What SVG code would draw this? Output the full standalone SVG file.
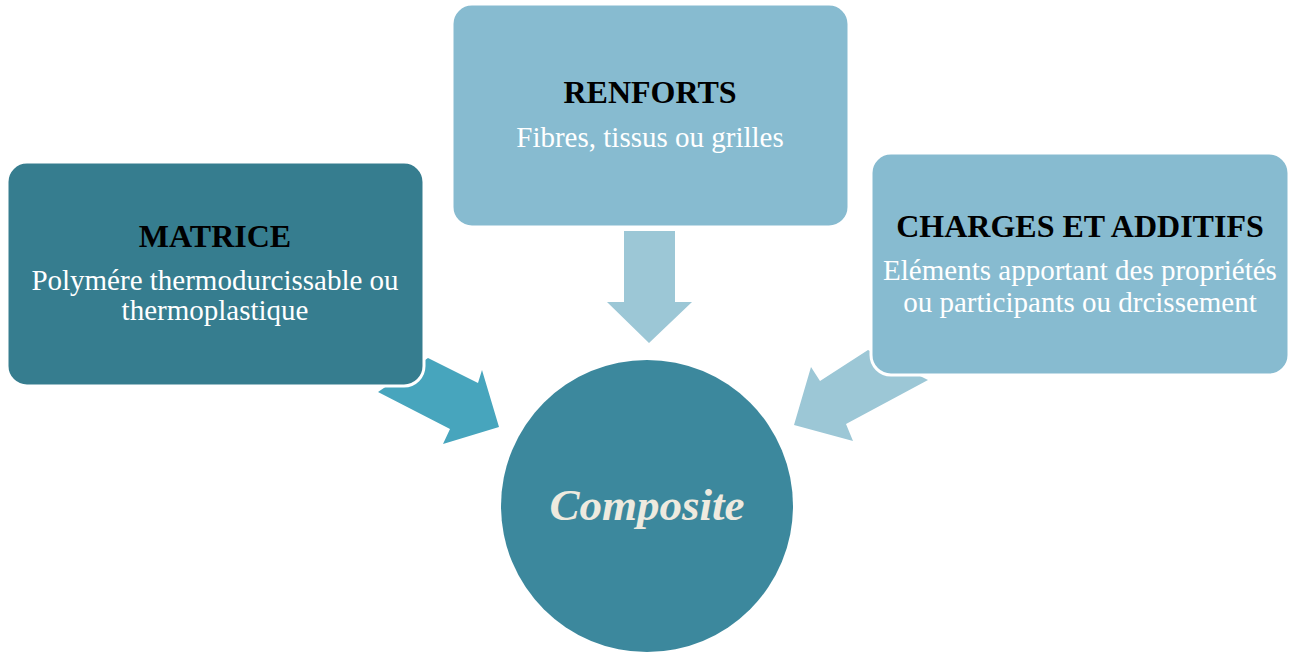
<svg xmlns="http://www.w3.org/2000/svg" width="1290" height="653" viewBox="0 0 1290 653">
<style>
.box{stroke:#ffffff;stroke-width:3}
.title{font-family:"Liberation Serif","Times New Roman",serif;font-weight:bold;font-size:32px;fill:#000000;text-anchor:middle}
.sub{font-family:"Liberation Serif","Times New Roman",serif;font-size:29px;fill:#ffffff;text-anchor:middle}
.center{font-family:"Liberation Serif","Times New Roman",serif;font-weight:bold;font-style:italic;font-size:45px;fill:#EEEADF;text-anchor:middle}
</style>
<rect width="1290" height="653" fill="#ffffff"/>
<g id="connectors">
<polygon points="428,358 478,383 482,370 499,427 443,444 450,429 378,392" fill="#47A5BD"/>
<polygon points="624,231 675,231 675,302 692,302 649,343 607,302 624,302" fill="#9CC7D6"/>
<polygon points="868,350 928,380 846,424 853,441 794,425 811,367 820,381" fill="#9CC7D6"/>
</g>
<g id="node-matrice">
<rect class="box" x="7" y="162" width="417" height="224" rx="20" fill="#367D8F"/>
<text class="title" x="215" y="247">MATRICE</text>
<text class="sub" x="215" y="290">Polymére thermodurcissable ou</text>
<text class="sub" x="215" y="320">thermoplastique</text>
</g>
<g id="node-renforts">
<rect class="box" x="452" y="4" width="397" height="223" rx="20" fill="#87BBD0"/>
<text class="title" x="650" y="103">RENFORTS</text>
<text class="sub" x="650" y="147">Fibres, tissus ou grilles</text>
</g>
<g id="node-charges">
<rect class="box" x="871" y="153" width="418" height="222" rx="20" fill="#87BBD0"/>
<text class="title" x="1080" y="237">CHARGES ET ADDITIFS</text>
<text class="sub" x="1080" y="280">Eléments apportant des propriétés</text>
<text class="sub" x="1080" y="312">ou participants ou drcissement</text>
</g>
<g id="node-composite">
<circle cx="647" cy="506" r="146" fill="#3C889D"/>
<text class="center" x="647" y="520">Composite</text>
</g>
</svg>
